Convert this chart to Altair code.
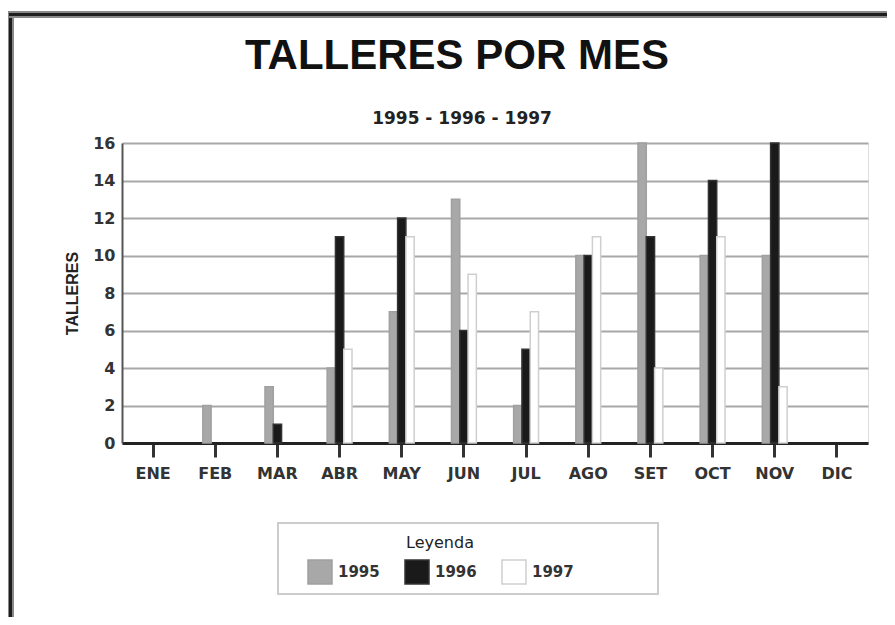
import altair as alt
import pandas as pd

meses = ["ENE", "FEB", "MAR", "ABR", "MAY", "JUN", "JUL", "AGO", "SET", "OCT", "NOV", "DIC"]
anios = ["1995", "1996", "1997"]
v1995 = [0, 2, 3, 4, 7, 13, 2, 10, 16, 10, 10, 0]
v1996 = [0, 0, 1, 11, 12, 6, 5, 10, 11, 14, 16, 0]
v1997 = [0, 0, 0, 5, 11, 9, 7, 11, 4, 11, 3, 0]
y_ticks = [0, 2, 4, 6, 8, 10, 12, 14, 16]
titulo = "TALLERES POR MES"
subtitulo = "1995 - 1996 - 1997"

rows = []
for serie, vals in zip(anios, [v1995, v1996, v1997]):
    for m, v in zip(meses, vals):
        rows.append({"mes": m, "anio": serie, "talleres": v})
df = pd.DataFrame(rows)

fill_colors = ["#a8a8a8", "#1a1a1a", "#ffffff"]
stroke_colors = ["#a0a0a0", "#333333", "#cfcfcf"]

one = pd.DataFrame({"k": [0]})

bars = alt.Chart(df).transform_filter("datum.talleres > 0").mark_bar(strokeWidth=1.5).encode(
    x=alt.X("mes:N", sort=meses,
            scale=alt.Scale(domain=meses, paddingInner=0.6, paddingOuter=0.3),
            axis=alt.Axis(title=None, labelAngle=0, grid=False,
                          domainColor="#222222", domainWidth=3,
                          tickColor="#333333", tickWidth=3, tickSize=14,
                          labelPadding=8, labelFont="DejaVu Sans",
                          labelFontWeight="bold", labelFontSize=16,
                          labelColor="#333333")),
    xOffset=alt.XOffset("anio:N", sort=anios,
                        scale=alt.Scale(domain=anios, paddingInner=0, paddingOuter=0)),
    y=alt.Y("talleres:Q",
            scale=alt.Scale(domain=[0, 16], nice=False),
            axis=alt.Axis(title="TALLERES", values=y_ticks, ticks=False,
                          grid=True, gridColor="#a8a8a8", gridWidth=2,
                          domainColor="#555555", domainWidth=2,
                          labelPadding=7, labelFont="DejaVu Sans",
                          labelFontWeight="bold", labelFontSize=16,
                          labelColor="#333333",
                          titleFont="Liberation Sans", titleFontWeight="bold",
                          titleFontSize=16, titleColor="#222222",
                          titlePadding=12)),
    color=alt.Color("anio:N", sort=anios,
                    scale=alt.Scale(domain=anios, range=fill_colors),
                    legend=alt.Legend(title="Leyenda", orient="none",
                                      direction="horizontal", columns=3,
                                      legendX=185, legendY=392,
                                      titleAnchor="middle",
                                      titleFont="DejaVu Sans", titleFontWeight="normal",
                                      titleFontSize=16, titleColor="#222222",
                                      titlePadding=8,
                                      symbolType="square", symbolSize=576,
                                      symbolStrokeColor="#bbbbbb", symbolStrokeWidth=1.5,
                                      symbolOpacity=1,
                                      labelFont="DejaVu Sans", labelFontWeight="bold",
                                      labelFontSize=15, labelColor="#333333",
                                      labelOffset=5, columnPadding=22,
                                      labelExpr="datum.label + '    '")),
    stroke=alt.Stroke("anio:N", sort=anios,
                      scale=alt.Scale(domain=anios, range=stroke_colors),
                      legend=None),
)

frame_left = alt.Chart(one).mark_rect(fill="#1e1e1e", stroke="#888888", strokeWidth=2).encode(
    x=alt.value(-114), x2=alt.value(-109), y=alt.value(-131), y2=alt.value(490))
frame_top = alt.Chart(one).mark_rect(fill="#1e1e1e", stroke="#888888", strokeWidth=2).encode(
    x=alt.value(-114), x2=alt.value(780), y=alt.value(-131), y2=alt.value(-126))
legend_box = alt.Chart(one).mark_rect(fill="white", stroke="#cccccc", strokeWidth=2).encode(
    x=alt.value(156), x2=alt.value(536), y=alt.value(380), y2=alt.value(451))

title_mark = alt.Chart(one).mark_text(
    font="Liberation Sans", fontSize=42, fontWeight="bold", color="#111111",
    align="center", baseline="alphabetic").encode(
    text=alt.value(titulo), x=alt.value(335), y=alt.value(-74))
subtitle_mark = alt.Chart(one).mark_text(
    font="DejaVu Sans", fontSize=17, fontWeight="bold", color="#222222",
    align="center", baseline="alphabetic").encode(
    text=alt.value(subtitulo), x=alt.value(340), y=alt.value(-19))

chart = alt.layer(frame_left, frame_top, legend_box, title_mark, subtitle_mark, bars).properties(
    width=746, height=300,
    autosize=alt.AutoSizeParams(type="none"),
    padding={"left": 114, "top": 135, "right": 19, "bottom": 174},
).configure_view(stroke=None).configure(background="white")

chart.save("out.html", embed_options={"renderer": "svg", "actions": False})
